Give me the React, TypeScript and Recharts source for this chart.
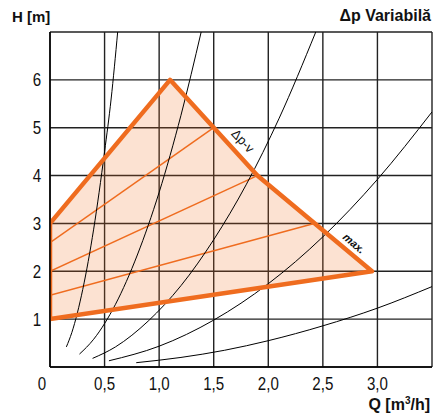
import React from "react";
import {
  Area,
  CartesianGrid,
  ComposedChart,
  Line,
  ReferenceDot,
  XAxis,
  YAxis,
} from "recharts";

// axis ticks
const qTicks = [0, 0.5, 1, 1.5, 2, 2.5, 3, 3.5];
const hTicks = [0, 1, 2, 3, 4, 5, 6, 7];

// working field of the pump (Δp variable)
const fieldRange = [
  { q: 0, r: [1, 3] },
  { q: 1.1, r: [1.37, 6] },
  { q: 1.9, r: [1.64, 4] },
  { q: 2.95, r: [2, 2] },
];
const fieldOutline = [
  { q: 0, h: 1 },
  { q: 0, h: 3 },
  { q: 1.1, h: 6 },
  { q: 1.9, h: 4 },
  { q: 2.95, h: 2 },
  { q: 0, h: 1 },
];

// intermediate speed settings
const speed1 = [
  { q: 0, h: 2.6 },
  { q: 1.5, h: 5 },
];
const speed2 = [
  { q: 0, h: 2 },
  { q: 1.9, h: 4 },
];
const speed3 = [
  { q: 0, h: 1.5 },
  { q: 2.42, h: 3 },
];

// system curves
const sysA = [
  { q: 0.15, h: 0.42 },
  { q: 0.2, h: 0.72 },
  { q: 0.3, h: 1.62 },
  { q: 0.4, h: 2.88 },
  { q: 0.5, h: 4.5 },
  { q: 0.56, h: 5.6 },
  { q: 0.62, h: 7 },
];
const sysB = [
  { q: 0.27, h: 0.27 },
  { q: 0.4, h: 0.58 },
  { q: 0.6, h: 1.31 },
  { q: 0.8, h: 2.34 },
  { q: 1.0, h: 3.65 },
  { q: 1.2, h: 5.26 },
  { q: 1.385, h: 7 },
];
const sysC = [
  { q: 0.39, h: 0.18 },
  { q: 0.6, h: 0.42 },
  { q: 0.9, h: 0.96 },
  { q: 1.2, h: 1.7 },
  { q: 1.5, h: 2.66 },
  { q: 1.8, h: 3.82 },
  { q: 2.1, h: 5.2 },
  { q: 2.435, h: 7 },
];
const sysD = [
  { q: 0.54, h: 0.13 },
  { q: 1.0, h: 0.435 },
  { q: 1.5, h: 0.98 },
  { q: 2.0, h: 1.74 },
  { q: 2.5, h: 2.72 },
  { q: 3.0, h: 3.92 },
  { q: 3.5, h: 5.33 },
];
const sysE = [
  { q: 0.79, h: 0.09 },
  { q: 1.2, h: 0.2 },
  { q: 1.6, h: 0.35 },
  { q: 2.0, h: 0.55 },
  { q: 2.5, h: 0.86 },
  { q: 3.0, h: 1.23 },
  { q: 3.5, h: 1.68 },
];

const ORANGE = "#ef6c1f";
const tickFont = "'Liberation Sans', Arial, sans-serif";
const boldFont = "'Liberation Sans', Arial, sans-serif";

const XTick = (props: any) => {
  const { x, y, payload } = props;
  const v = payload.value;
  if (v > 3.01) return null;
  const label = v === 0 ? "0" : v.toFixed(1).replace(".", ",");
  const cx = v === 0 ? x - 8 : x;
  return (
    <text transform={`translate(${cx},${y + 23}) scale(0.84,1)`} textAnchor="middle" fontSize={18} fontFamily={tickFont} fill="#111">
      {label}
    </text>
  );
};

const YTick = (props: any) => {
  const { x, y, payload } = props;
  const v = payload.value;
  if (v < 1 || v > 6) return null;
  return (
    <text transform={`translate(${x - 13},${y + 6.5}) scale(0.84,1)`} textAnchor="middle" fontSize={18} fontFamily={tickFont} fill="#111">
      {v}
    </text>
  );
};

const sysLines = [sysA, sysB, sysC, sysD, sysE];
const speedLines = [speed1, speed2, speed3];

export default function App() {
  return (
    <div style={{ position: "absolute", left: 0, top: 0, width: 433, height: 419 }}>
      <ComposedChart width={433} height={419} margin={{ top: 32, right: 1, bottom: 0, left: 0 }}>
        <CartesianGrid stroke="#222" strokeWidth={1.4} horizontalValues={hTicks} verticalValues={qTicks} />
        <XAxis
          type="number"
          dataKey="q"
          domain={[0, 3.5]}
          ticks={qTicks}
          allowDataOverflow
          height={52}
          tickSize={0}
          tickMargin={0}
          tick={<XTick />}
          stroke="#000"
          strokeWidth={1.5}
        />
        <YAxis
          type="number"
          domain={[0, 7]}
          ticks={hTicks}
          allowDataOverflow
          width={50}
          tickSize={0}
          tickMargin={0}
          tick={<YTick />}
          stroke="#000"
          strokeWidth={1.5}
        />
        <Area
          data={fieldRange}
          dataKey="r"
          type="linear"
          stroke="none"
          fill={ORANGE}
          fillOpacity={0.2}
          isAnimationActive={false}
          activeDot={false}
        />
        {speedLines.map((d, i) => (
          <Line
            key={`s${i}`}
            data={d}
            dataKey="h"
            type="linear"
            stroke={ORANGE}
            strokeWidth={1.5}
            dot={false}
            activeDot={false}
            isAnimationActive={false}
          />
        ))}
        {sysLines.map((d, i) => (
          <Line
            key={`c${i}`}
            data={d}
            dataKey="h"
            type="monotone"
            stroke="#000"
            strokeWidth={1}
            dot={false}
            activeDot={false}
            isAnimationActive={false}
          />
        ))}
        <Line
          data={fieldOutline}
          dataKey="h"
          type="linear"
          stroke={ORANGE}
          strokeWidth={4.5}
          strokeLinejoin="round"
          dot={false}
          activeDot={false}
          isAnimationActive={false}
        />
        <ReferenceDot
          x={1.76}
          y={4.71}
          r={0}
          shape={(p: any) => (
            <text
              x={p.cx}
              y={p.cy}
              transform={`rotate(47 ${p.cx} ${p.cy})`}
              textAnchor="middle"
              dominantBaseline="middle"
              fontSize={13}
              fontFamily={boldFont}
              fill="#111"
            >
              Δp-v
            </text>
          )}
        />
        <ReferenceDot
          x={2.78}
          y={2.57}
          r={0}
          shape={(p: any) => (
            <text
              x={p.cx}
              y={p.cy}
              transform={`rotate(40 ${p.cx} ${p.cy})`}
              textAnchor="middle"
              dominantBaseline="middle"
              fontSize={11}
              fontWeight="bold"
              fontStyle="italic"
              fontFamily={boldFont}
              fill="#111"
            >
              max.
            </text>
          )}
        />
      </ComposedChart>
      <div style={{ position: "absolute", left: 12, top: 8, fontFamily: boldFont, fontWeight: "bold", fontSize: 15, color: "#111", whiteSpace: "nowrap" }}>
        H [m]
      </div>
      <div style={{ position: "absolute", right: 2, top: 7, fontFamily: boldFont, fontWeight: "bold", fontSize: 16, color: "#111", whiteSpace: "nowrap" }}>
        Δp Variabilă
      </div>
      <div style={{ position: "absolute", right: 3, top: 395, fontFamily: boldFont, fontWeight: "bold", fontSize: 16, color: "#111", whiteSpace: "nowrap" }}>
        Q [m<sup style={{ fontSize: 10 }}>3</sup>/h]
      </div>
    </div>
  );
}
